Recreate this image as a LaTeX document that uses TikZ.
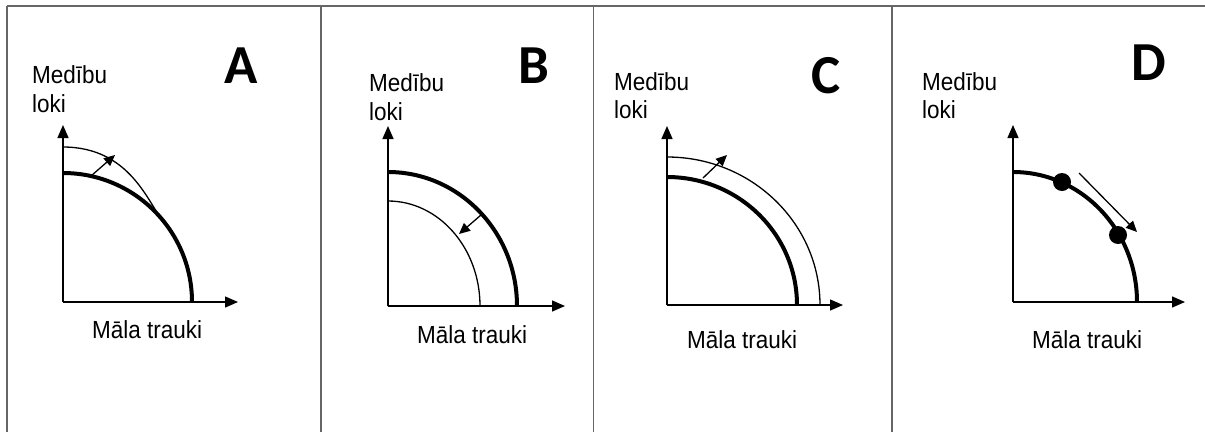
\documentclass[tikz,border=0pt]{standalone}
\usepackage{graphicx}
\usepackage{fontspec}
\setmainfont{Liberation Sans}
\newfontfamily\letterfont{Carlito}
\usetikzlibrary{arrows.meta}
\newcommand{\tallt}[1]{\scalebox{1}[1.1]{#1}}
\begin{document}
\begin{tikzpicture}[x=1pt,y=-1pt,
  frameline/.style={draw=black!60, line width=1.5pt},
  axis/.style={line width=1.4pt, -{Triangle[length=13pt,width=11pt]}},
  ppfthick/.style={line width=4pt},
  ppfthin/.style={line width=1.3pt},
  shiftarrow/.style={line width=1.3pt, -{Triangle[length=11pt,width=10pt]}},
  lbl/.style={font=\fontsize{22.5}{30}\selectfont, anchor=base west, inner sep=0pt},
  letter/.style={font=\letterfont\bfseries\fontsize{55}{55}\selectfont, anchor=base, inner sep=0pt},
  dot/.style={circle, fill=black, minimum size=18pt, inner sep=0pt}
]
\useasboundingbox (0,0) rectangle (1205,432);
\fill[white] (0,0) rectangle (1205,432);

% frame
\draw[frameline] (7,6) -- (1205,6);
\draw[frameline] (7,6) -- (7,432);
\draw[frameline] (321,6) -- (321,432);
\draw[frameline] (593.5,6) -- (593.5,432);
\draw[frameline] (892,6) -- (892,432);

% ---------- Panel A ----------
\coordinate (oA) at (63,302);
\coordinate (yA) at (63,125);
\coordinate (xA) at (238,302);
\draw[axis] (oA) -- (yA);
\draw[axis] (oA) -- (xA);
\draw[ppfthin] (63,147) .. controls (130,147) and (148,203) .. (163,221);
\draw[ppfthick] (63,173) arc[start angle=90, end angle=0, x radius=129pt, y radius=129pt];
\coordinate (aAs) at (91,176);
\coordinate (aAe) at (115,155);
\draw[shiftarrow] (aAs) -- (aAe);
\node[lbl] (mA) at (32,83) {\tallt{Medību}};
\node[lbl] (lA) at (32,112) {\tallt{loki}};
\node[lbl] (tA) at (92,338) {\tallt{Māla trauki}};
\node[letter] (LA) at (241,83) {A};

% ---------- Panel B ----------
\coordinate (oB) at (388,306);
\coordinate (yB) at (388,126);
\coordinate (xB) at (565,306);
\draw[axis] (oB) -- (yB);
\draw[axis] (oB) -- (xB);
\draw[ppfthin] (388,201) arc[start angle=90, end angle=0, x radius=92pt, y radius=105pt];
\draw[ppfthick] (388,172) arc[start angle=90, end angle=0, x radius=129pt, y radius=134pt];
\coordinate (aBs) at (481,215);
\coordinate (aBe) at (459,234);
\draw[shiftarrow] (aBs) -- (aBe);
\node[lbl] (mB) at (369,91) {\tallt{Medību}};
\node[lbl] (lB) at (369,120) {\tallt{loki}};
\node[lbl] (tB) at (417,343) {\tallt{Māla trauki}};
\node[letter] (LB) at (533.5,83) {B};

% ---------- Panel C ----------
\coordinate (oC) at (667,305);
\coordinate (yC) at (667,126);
\coordinate (xC) at (843,305);
\draw[axis] (oC) -- (yC);
\draw[axis] (oC) -- (xC);
\draw[ppfthin] (667,157) arc[start angle=90, end angle=0, x radius=153pt, y radius=148pt];
\draw[ppfthick] (667,177) arc[start angle=90, end angle=0, x radius=130pt, y radius=128pt];
\coordinate (aCs) at (703,178);
\coordinate (aCe) at (727,155);
\draw[shiftarrow] (aCs) -- (aCe);
\node[lbl] (mC) at (614,90) {\tallt{Medību}};
\node[lbl] (lC) at (614,118) {\tallt{loki}};
\node[lbl] (tC) at (687,348) {\tallt{Māla trauki}};
\node[letter] (LC) at (826.5,93) {C};

% ---------- Panel D ----------
\coordinate (oD) at (1013,302);
\coordinate (yD) at (1013,125);
\coordinate (xD) at (1185,302);
\draw[axis] (oD) -- (yD);
\draw[axis] (oD) -- (xD);
\draw[ppfthick] (1013,172) arc[start angle=90, end angle=0, x radius=124pt, y radius=130pt];
\node[dot] (d1) at (1062,182) {};
\node[dot] (d2) at (1118,235) {};
\coordinate (aDs) at (1079,173);
\coordinate (aDe) at (1137,232);
\draw[shiftarrow] (aDs) -- (aDe);
\node[lbl] (mD) at (922,90) {\tallt{Medību}};
\node[lbl] (lD) at (922,118) {\tallt{loki}};
\node[lbl] (tD) at (1032,348) {\tallt{Māla trauki}};
\node[letter] (LD) at (1148.5,80) {D};
\end{tikzpicture}
\end{document}
